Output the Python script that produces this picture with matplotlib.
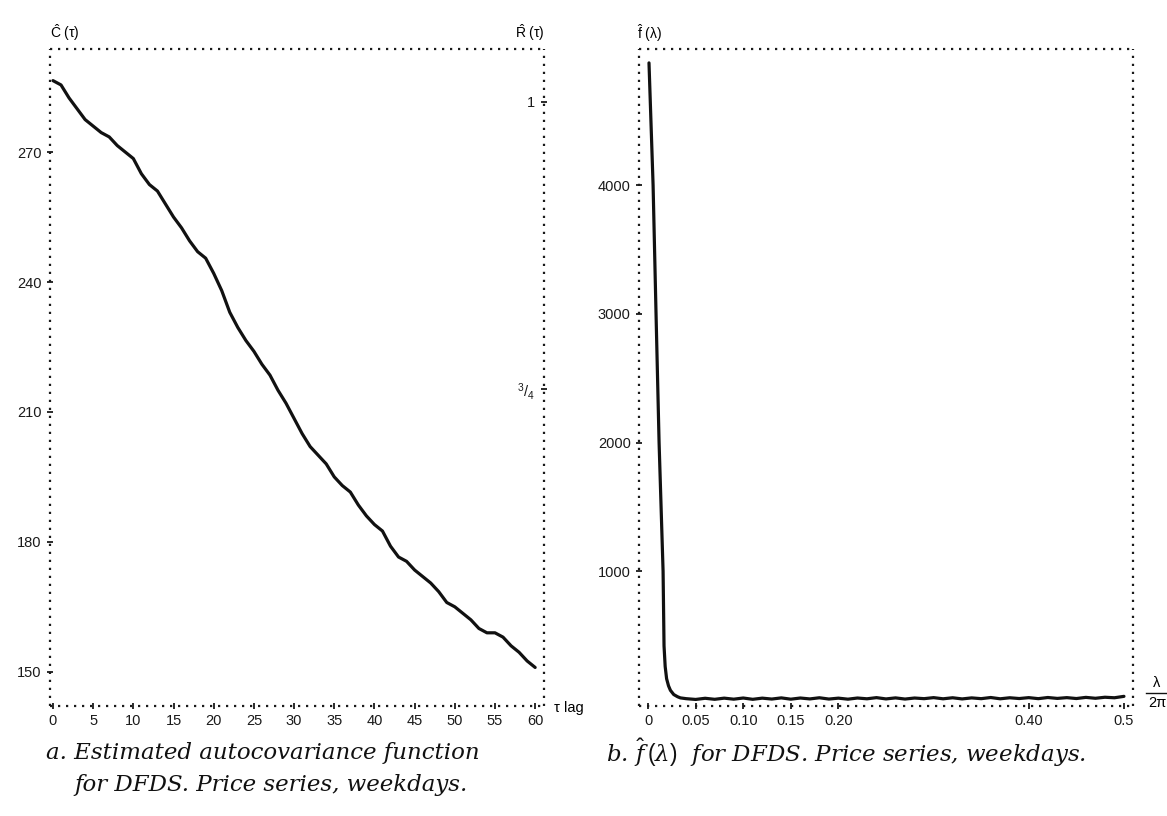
import matplotlib
matplotlib.use("Agg")
import matplotlib.pyplot as plt
from matplotlib.lines import Line2D

# panel a: estimated autocovariance
lags = list(range(61))
acov = [286.5, 285.5, 282.5, 280.0, 277.5, 276.0, 274.5, 273.5, 271.5, 270.0,
        268.5, 265.0, 262.5, 261.0, 258.0, 255.0, 252.5, 249.5, 247.0, 245.5,
        242.0, 238.0, 233.0, 229.5, 226.5, 224.0, 221.0, 218.5, 215.0, 212.0,
        208.5, 205.0, 202.0, 200.0, 198.0, 195.0, 193.0, 191.5, 188.5, 186.0,
        184.0, 182.5, 179.0, 176.5, 175.5, 173.5, 172.0, 170.5, 168.5, 166.0,
        165.0, 163.5, 162.0, 160.0, 159.0, 159.0, 158.0, 156.0, 154.5, 152.5,
        151.0]
c_ticks = [150, 180, 210, 240, 270]
lag_ticks = list(range(0, 61, 5))
r_ticks = [0.75, 1.0]
r_labels = [r"$^{3}/_{4}$", "1"]

# panel b: spectral estimate
freqs = [0.001, 0.0053, 0.0084, 0.0116, 0.0158, 0.0168, 0.018, 0.0195, 0.0215,
         0.0235, 0.027, 0.031, 0.034,
         0.04, 0.05, 0.06, 0.07, 0.08, 0.09, 0.10, 0.11, 0.12, 0.13, 0.14,
         0.15, 0.16, 0.17, 0.18, 0.19, 0.20, 0.21, 0.22, 0.23, 0.24, 0.25,
         0.26, 0.27, 0.28, 0.29, 0.30, 0.31, 0.32, 0.33, 0.34, 0.35, 0.36,
         0.37, 0.38, 0.39, 0.40, 0.41, 0.42, 0.43, 0.44, 0.45, 0.46, 0.47,
         0.48, 0.49, 0.50]
spec = [4950, 4000, 3000, 2000, 1000, 420, 260, 165, 110,
        75, 42, 25, 16,
        10, 4, 13, 5, 14, 6, 15, 5, 14, 7, 16,
        6, 15, 8, 17, 7, 14, 6, 15, 9, 18, 8,
        16, 7, 15, 10, 18, 9, 17, 8, 16, 10, 19,
        9, 17, 11, 18, 10, 19, 12, 18, 11, 20, 13,
        21, 17, 28]
f_ticks = [0, 0.05, 0.10, 0.15, 0.20, 0.40, 0.5]
f_labels = ["0", "0.05", "0.10", "0.15", "0.20", "0.40", "0.5"]
s_ticks = [1000, 2000, 3000, 4000]

plt.rcParams["font.family"] = ["Liberation Sans", "DejaVu Sans"]
plt.rcParams["mathtext.fontset"] = "custom"
plt.rcParams["mathtext.rm"] = "Liberation Sans"
plt.rcParams["mathtext.it"] = "DejaVu Serif:italic"
plt.rcParams["mathtext.sf"] = "Liberation Sans"

W, H = 1167, 816
fig = plt.figure(figsize=(W / 100, H / 100), dpi=100)


def box(x0, x1, y0, y1):
    return [x0 / W, 1 - y1 / H, (x1 - x0) / W, (y1 - y0) / H]


def dotted(ax):
    for sp in ax.spines.values():
        sp.set_linestyle((0, (1, 2.6)))
        sp.set_linewidth(1.6)
        sp.set_capstyle("butt")
        sp.set_color("#1a1a1a")
    ax.tick_params(direction="inout", length=5, width=1.3, colors="#1a1a1a",
                   labelsize=10.5, labelcolor="#1a1a1a")
    ax.tick_params(axis="x", pad=3.5)


ink = "#111111"

# ---- panel a
ax1 = fig.add_axes(box(50, 544, 49, 706))
ax1.plot(lags, acov, color=ink, lw=2.3, solid_capstyle="round")
ax1.set_xlim(-0.37, 61.1)
ax1.set_ylim(142.1, 293.8)
ax1.set_xticks(lag_ticks)
ax1.set_yticks(c_ticks)
dotted(ax1)

ax2 = ax1.twinx()
ax2.set_ylim(0.474, 1.046)
ax2.set_yticks(r_ticks)
ax2.set_yticklabels(r_labels)
for sp in ax2.spines.values():
    sp.set_visible(False)
ax2.tick_params(axis="y", direction="inout", length=5, width=1.3,
                colors="#1a1a1a", labelsize=10.5, pad=-9)
for lab in ax2.get_yticklabels():
    lab.set_horizontalalignment("right")

fig.text(50 / W, 1 - 33 / H, r"$\hat{\mathrm{C}}$ (τ)", fontsize=10,
         ha="left", va="center")
fig.text(545 / W, 1 - 33 / H, r"$\hat{\mathrm{R}}$ (τ)", fontsize=10,
         ha="right", va="center")
fig.text(554 / W, 1 - 708 / H, "τ lag", fontsize=10.5, ha="left", va="center")

# ---- panel b
ax3 = fig.add_axes(box(639, 1133, 49, 706))
ax3.plot(freqs, spec, color=ink, lw=2.3, solid_capstyle="round")
ax3.set_xlim(-0.0095, 0.5095)
ax3.set_ylim(-47, 5058)
ax3.set_xticks(f_ticks)
ax3.set_xticklabels(f_labels)
ax3.set_yticks(s_ticks)
dotted(ax3)

fig.text(637 / W, 1 - 33 / H, r"$\hat{\mathrm{f}}$ (λ)", fontsize=10,
         ha="left", va="center")
fig.text(1157 / W, 1 - 683 / H, "λ", fontsize=10.5, ha="center", va="center")
fig.text(1157 / W, 1 - 703 / H, "2π", fontsize=10.5, ha="center", va="center")
fig.add_artist(Line2D([1146 / W, 1168 / W], [1 - 693 / H, 1 - 693 / H],
                      color=ink, lw=1.0))

# ---- captions
cap = dict(family="DejaVu Serif", style="italic", fontsize=16.5, color=ink,
           va="center", ha="left")
fig.text(46 / W, 1 - 753 / H, "a. Estimated autocovariance function", **cap)
fig.text(74 / W, 1 - 785 / H, "for DFDS. Price series, weekdays.", **cap)
fig.text(606 / W, 1 - 753 / H,
         r"b. $\hat{f}\,(\lambda)$  for DFDS. Price series, weekdays.", **cap)

fig.savefig("out.png", dpi=100)
